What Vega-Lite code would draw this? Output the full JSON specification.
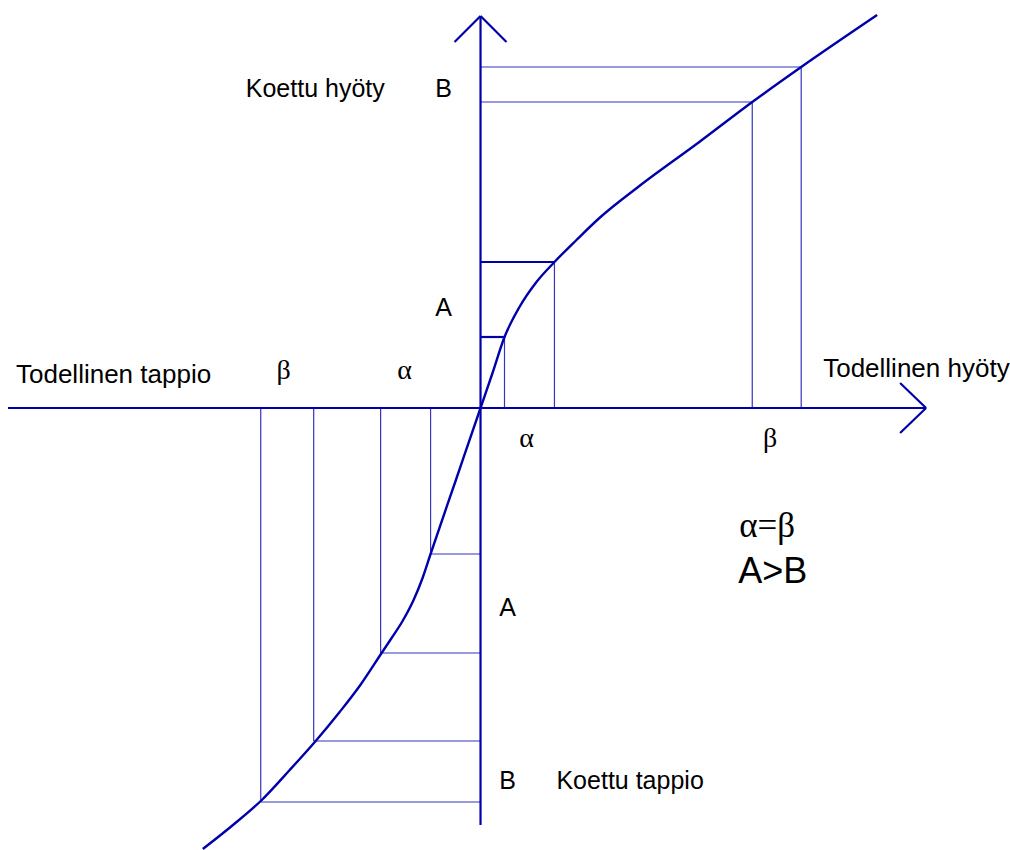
{
  "$schema": "https://vega.github.io/schema/vega-lite/v6.json",
  "width": 1010,
  "height": 850,
  "autosize": {"type": "fit", "contains": "padding"},
  "padding": 0,
  "background": "white",
  "config": {"view": {"stroke": null}},
  "datasets": {
    "curve": [
      {"i": 1, "x": 203, "y": 849},
      {"i": 2, "x": 232, "y": 826},
      {"i": 3, "x": 261, "y": 801},
      {"i": 4, "x": 290, "y": 770},
      {"i": 5, "x": 316, "y": 741},
      {"i": 6, "x": 340, "y": 712},
      {"i": 7, "x": 360, "y": 686},
      {"i": 8, "x": 382, "y": 653},
      {"i": 9, "x": 392, "y": 638},
      {"i": 10, "x": 403, "y": 621},
      {"i": 11, "x": 414, "y": 600},
      {"i": 12, "x": 423, "y": 578},
      {"i": 13, "x": 431, "y": 554},
      {"i": 14, "x": 456, "y": 481},
      {"i": 15, "x": 481, "y": 408},
      {"i": 16, "x": 493, "y": 373},
      {"i": 17, "x": 505, "y": 337},
      {"i": 18, "x": 520, "y": 307},
      {"i": 19, "x": 537, "y": 282},
      {"i": 20, "x": 555, "y": 262},
      {"i": 21, "x": 577, "y": 240},
      {"i": 22, "x": 600, "y": 218},
      {"i": 23, "x": 640, "y": 186},
      {"i": 24, "x": 700, "y": 142},
      {"i": 25, "x": 753, "y": 102},
      {"i": 26, "x": 802, "y": 67},
      {"i": 27, "x": 878, "y": 15}
    ],
    "segments": [
      {"kind": "axis", "x": 8, "y": 408, "x2": 927, "y2": 408},
      {"kind": "axis", "x": 481, "y": 16, "x2": 481, "y2": 825},
      {"kind": "axis", "x": 901, "y": 383, "x2": 927, "y2": 408},
      {"kind": "axis", "x": 901, "y": 433, "x2": 927, "y2": 408},
      {"kind": "axis", "x": 455, "y": 42, "x2": 481, "y2": 16},
      {"kind": "axis", "x": 507, "y": 42, "x2": 481, "y2": 16},
      {"kind": "strong", "x": 481, "y": 337, "x2": 505, "y2": 337},
      {"kind": "strong", "x": 481, "y": 262, "x2": 555, "y2": 262},
      {"kind": "guide", "x": 505, "y": 337, "x2": 505, "y2": 408},
      {"kind": "guide", "x": 555, "y": 262, "x2": 555, "y2": 408},
      {"kind": "guide", "x": 481, "y": 102, "x2": 753, "y2": 102},
      {"kind": "guide", "x": 753, "y": 102, "x2": 753, "y2": 408},
      {"kind": "guide", "x": 481, "y": 67, "x2": 802, "y2": 67},
      {"kind": "guide", "x": 802, "y": 67, "x2": 802, "y2": 408},
      {"kind": "guide", "x": 431, "y": 408, "x2": 431, "y2": 554},
      {"kind": "guide", "x": 431, "y": 554, "x2": 481, "y2": 554},
      {"kind": "guide", "x": 381, "y": 408, "x2": 381, "y2": 653},
      {"kind": "guide", "x": 381, "y": 653, "x2": 481, "y2": 653},
      {"kind": "guide", "x": 314, "y": 408, "x2": 314, "y2": 741},
      {"kind": "guide", "x": 314, "y": 741, "x2": 481, "y2": 741},
      {"kind": "guide", "x": 261, "y": 408, "x2": 261, "y2": 802},
      {"kind": "guide", "x": 261, "y": 802, "x2": 481, "y2": 802}
    ],
    "sansLeft": [
      {"t": "Koettu hyöty", "x": 246, "y": 97, "s": 25},
      {"t": "Todellinen tappio", "x": 16, "y": 383, "s": 26},
      {"t": "Todellinen hyöty", "x": 824, "y": 377, "s": 26},
      {"t": "Koettu tappio", "x": 557, "y": 789, "s": 25}
    ],
    "sansCenter": [
      {"t": "B", "x": 444, "y": 97},
      {"t": "A", "x": 444, "y": 316},
      {"t": "A", "x": 508, "y": 616},
      {"t": "B", "x": 508, "y": 789}
    ],
    "greek": [
      {"t": "β", "x": 284, "y": 379},
      {"t": "α", "x": 405, "y": 379},
      {"t": "α", "x": 527, "y": 447},
      {"t": "β", "x": 771, "y": 447}
    ],
    "big": [
      {"t": "α=β", "x": 740, "y": 537, "f": "serif"},
      {"t": "A>B", "x": 739, "y": 583, "f": "sans"}
    ]
  },
  "layer": [
    {
      "data": {"name": "segments"},
      "transform": [{"filter": "datum.kind === 'guide'"}],
      "mark": {"type": "rule", "color": "#3434bc", "strokeWidth": 1.2},
      "encoding": {
        "x": {"field": "x", "type": "quantitative", "scale": {"domain": [0, 1010], "nice": false, "zero": false}, "axis": null},
        "y": {"field": "y", "type": "quantitative", "scale": {"domain": [0, 850], "nice": false, "zero": false, "reverse": true}, "axis": null},
        "x2": {"field": "x2"},
        "y2": {"field": "y2"}
      }
    },
    {
      "data": {"name": "segments"},
      "transform": [{"filter": "datum.kind !== 'guide'"}],
      "mark": {"type": "rule", "color": "#0000aa", "strokeWidth": 2.2},
      "encoding": {
        "x": {"field": "x", "type": "quantitative", "scale": {"domain": [0, 1010], "nice": false, "zero": false}, "axis": null},
        "y": {"field": "y", "type": "quantitative", "scale": {"domain": [0, 850], "nice": false, "zero": false, "reverse": true}, "axis": null},
        "x2": {"field": "x2"},
        "y2": {"field": "y2"}
      }
    },
    {
      "data": {"name": "curve"},
      "mark": {"type": "line", "color": "#0000aa", "strokeWidth": 2.4, "interpolate": "monotone", "clip": true},
      "encoding": {
        "x": {"field": "x", "type": "quantitative", "axis": null},
        "y": {"field": "y", "type": "quantitative", "axis": null},
        "order": {"field": "i", "type": "quantitative"}
      }
    },
    {
      "data": {"name": "sansLeft"},
      "mark": {"type": "text", "font": "Liberation Sans", "align": "left", "baseline": "alphabetic", "color": "#000000"},
      "encoding": {
        "x": {"field": "x", "type": "quantitative", "axis": null},
        "y": {"field": "y", "type": "quantitative", "axis": null},
        "text": {"field": "t"},
        "size": {"field": "s", "type": "quantitative", "scale": null, "legend": null}
      }
    },
    {
      "data": {"name": "sansCenter"},
      "mark": {"type": "text", "font": "Liberation Sans", "fontSize": 25, "align": "center", "baseline": "alphabetic", "color": "#000000"},
      "encoding": {
        "x": {"field": "x", "type": "quantitative", "axis": null},
        "y": {"field": "y", "type": "quantitative", "axis": null},
        "text": {"field": "t"}
      }
    },
    {
      "data": {"name": "greek"},
      "mark": {"type": "text", "font": "Liberation Serif", "fontSize": 28, "align": "center", "baseline": "alphabetic", "color": "#000000"},
      "encoding": {
        "x": {"field": "x", "type": "quantitative", "axis": null},
        "y": {"field": "y", "type": "quantitative", "axis": null},
        "text": {"field": "t"}
      }
    },
    {
      "data": {"name": "big"},
      "transform": [{"filter": "datum.f === 'serif'"}],
      "mark": {"type": "text", "font": "Liberation Serif", "fontSize": 35, "align": "left", "baseline": "alphabetic", "color": "#000000"},
      "encoding": {
        "x": {"field": "x", "type": "quantitative", "axis": null},
        "y": {"field": "y", "type": "quantitative", "axis": null},
        "text": {"field": "t"}
      }
    },
    {
      "data": {"name": "big"},
      "transform": [{"filter": "datum.f === 'sans'"}],
      "mark": {"type": "text", "font": "Liberation Sans", "fontSize": 36, "align": "left", "baseline": "alphabetic", "color": "#000000"},
      "encoding": {
        "x": {"field": "x", "type": "quantitative", "axis": null},
        "y": {"field": "y", "type": "quantitative", "axis": null},
        "text": {"field": "t"}
      }
    }
  ]
}
